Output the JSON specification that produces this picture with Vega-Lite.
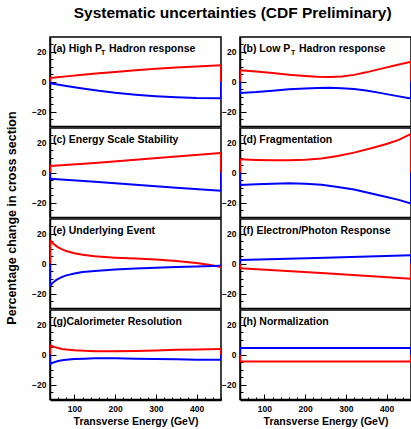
{
  "$schema": "https://vega.github.io/schema/vega-lite/v6.json",
  "padding": 5,
  "background": "white",
  "title": {"text": "Systematic uncertainties (CDF Preliminary)", "font": "Liberation Sans", "fontSize": 15.5, "fontWeight": "bold", "anchor": "middle", "offset": 15, "dx": 24, "color": "black"},
  "datasets": {
    "panels": [
      {"p": "a", "r": 1, "c": 1, "t1": "(a) High P", "t2": "T", "t3": "Hadron response"},
      {"p": "b", "r": 1, "c": 2, "t1": "(b) Low P", "t2": "T", "t3": "Hadron response"},
      {"p": "c", "r": 2, "c": 1, "t1": "(c) Energy Scale Stability", "t2": "", "t3": ""},
      {"p": "d", "r": 2, "c": 2, "t1": "(d) Fragmentation", "t2": "", "t3": ""},
      {"p": "e", "r": 3, "c": 1, "t1": "(e) Underlying Event", "t2": "", "t3": ""},
      {"p": "f", "r": 3, "c": 2, "t1": "(f) Electron/Photon Response", "t2": "", "t3": ""},
      {"p": "g", "r": 4, "c": 1, "t1": "(g)Calorimeter Resolution", "t2": "", "t3": ""},
      {"p": "h", "r": 4, "c": 2, "t1": "(h) Normalization", "t2": "", "t3": ""}
    ],
    "curves": [
      {"p": "a", "s": "red", "x": 40, "y": 2.5}, {"p": "a", "s": "red", "x": 80, "y": 3.6}, {"p": "a", "s": "red", "x": 120, "y": 4.7}, {"p": "a", "s": "red", "x": 160, "y": 5.7}, {"p": "a", "s": "red", "x": 200, "y": 6.6}, {"p": "a", "s": "red", "x": 250, "y": 7.7}, {"p": "a", "s": "red", "x": 300, "y": 8.7}, {"p": "a", "s": "red", "x": 350, "y": 9.6}, {"p": "a", "s": "red", "x": 400, "y": 10.3}, {"p": "a", "s": "red", "x": 460, "y": 11},
      {"p": "a", "s": "blue", "x": 40, "y": -1}, {"p": "a", "s": "blue", "x": 80, "y": -2.8}, {"p": "a", "s": "blue", "x": 120, "y": -4.5}, {"p": "a", "s": "blue", "x": 160, "y": -6.1}, {"p": "a", "s": "blue", "x": 200, "y": -7.4}, {"p": "a", "s": "blue", "x": 250, "y": -8.7}, {"p": "a", "s": "blue", "x": 300, "y": -9.7}, {"p": "a", "s": "blue", "x": 350, "y": -10.4}, {"p": "a", "s": "blue", "x": 400, "y": -10.9}, {"p": "a", "s": "blue", "x": 460, "y": -11.1},
      {"p": "b", "s": "red", "x": 40, "y": 7.7}, {"p": "b", "s": "red", "x": 80, "y": 6.8}, {"p": "b", "s": "red", "x": 120, "y": 5.8}, {"p": "b", "s": "red", "x": 160, "y": 4.7}, {"p": "b", "s": "red", "x": 200, "y": 3.9}, {"p": "b", "s": "red", "x": 230, "y": 3.4}, {"p": "b", "s": "red", "x": 260, "y": 3.15}, {"p": "b", "s": "red", "x": 290, "y": 3.5}, {"p": "b", "s": "red", "x": 320, "y": 4.6}, {"p": "b", "s": "red", "x": 350, "y": 6.3}, {"p": "b", "s": "red", "x": 380, "y": 8.3}, {"p": "b", "s": "red", "x": 420, "y": 10.9}, {"p": "b", "s": "red", "x": 460, "y": 13.5},
      {"p": "b", "s": "blue", "x": 40, "y": -7.5}, {"p": "b", "s": "blue", "x": 80, "y": -6.9}, {"p": "b", "s": "blue", "x": 120, "y": -6.0}, {"p": "b", "s": "blue", "x": 160, "y": -5.1}, {"p": "b", "s": "blue", "x": 200, "y": -4.5}, {"p": "b", "s": "blue", "x": 230, "y": -4.2}, {"p": "b", "s": "blue", "x": 260, "y": -4.1}, {"p": "b", "s": "blue", "x": 290, "y": -4.3}, {"p": "b", "s": "blue", "x": 320, "y": -4.9}, {"p": "b", "s": "blue", "x": 350, "y": -5.9}, {"p": "b", "s": "blue", "x": 380, "y": -7.3}, {"p": "b", "s": "blue", "x": 420, "y": -9.3}, {"p": "b", "s": "blue", "x": 460, "y": -11.3},
      {"p": "c", "s": "red", "x": 40, "y": 4.5}, {"p": "c", "s": "red", "x": 150, "y": 6.6}, {"p": "c", "s": "red", "x": 250, "y": 8.7}, {"p": "c", "s": "red", "x": 350, "y": 10.9}, {"p": "c", "s": "red", "x": 460, "y": 13.3},
      {"p": "c", "s": "blue", "x": 40, "y": -4}, {"p": "c", "s": "blue", "x": 150, "y": -6}, {"p": "c", "s": "blue", "x": 250, "y": -8}, {"p": "c", "s": "blue", "x": 350, "y": -10}, {"p": "c", "s": "blue", "x": 460, "y": -12},
      {"p": "d", "s": "red", "x": 40, "y": 9}, {"p": "d", "s": "red", "x": 80, "y": 8.6}, {"p": "d", "s": "red", "x": 120, "y": 8.3}, {"p": "d", "s": "red", "x": 160, "y": 8.3}, {"p": "d", "s": "red", "x": 200, "y": 8.7}, {"p": "d", "s": "red", "x": 240, "y": 9.6}, {"p": "d", "s": "red", "x": 280, "y": 11.3}, {"p": "d", "s": "red", "x": 320, "y": 13.5}, {"p": "d", "s": "red", "x": 360, "y": 16.2}, {"p": "d", "s": "red", "x": 400, "y": 19.3}, {"p": "d", "s": "red", "x": 430, "y": 22}, {"p": "d", "s": "red", "x": 460, "y": 26},
      {"p": "d", "s": "blue", "x": 40, "y": -8.2}, {"p": "d", "s": "blue", "x": 80, "y": -7.7}, {"p": "d", "s": "blue", "x": 120, "y": -7.3}, {"p": "d", "s": "blue", "x": 160, "y": -7.1}, {"p": "d", "s": "blue", "x": 200, "y": -7.3}, {"p": "d", "s": "blue", "x": 240, "y": -8.1}, {"p": "d", "s": "blue", "x": 280, "y": -9.5}, {"p": "d", "s": "blue", "x": 320, "y": -11.3}, {"p": "d", "s": "blue", "x": 360, "y": -13.8}, {"p": "d", "s": "blue", "x": 400, "y": -16.2}, {"p": "d", "s": "blue", "x": 430, "y": -18.2}, {"p": "d", "s": "blue", "x": 460, "y": -20.6},
      {"p": "e", "s": "red", "x": 40, "y": 16}, {"p": "e", "s": "red", "x": 45, "y": 14.3}, {"p": "e", "s": "red", "x": 50, "y": 13}, {"p": "e", "s": "red", "x": 55, "y": 12}, {"p": "e", "s": "red", "x": 60, "y": 11}, {"p": "e", "s": "red", "x": 70, "y": 9.6}, {"p": "e", "s": "red", "x": 80, "y": 8.5}, {"p": "e", "s": "red", "x": 100, "y": 7}, {"p": "e", "s": "red", "x": 120, "y": 6}, {"p": "e", "s": "red", "x": 150, "y": 5}, {"p": "e", "s": "red", "x": 200, "y": 4.1}, {"p": "e", "s": "red", "x": 250, "y": 3.5}, {"p": "e", "s": "red", "x": 300, "y": 2.8}, {"p": "e", "s": "red", "x": 350, "y": 1.8}, {"p": "e", "s": "red", "x": 400, "y": 0.5}, {"p": "e", "s": "red", "x": 430, "y": -0.6}, {"p": "e", "s": "red", "x": 460, "y": -2.2},
      {"p": "e", "s": "blue", "x": 40, "y": -15}, {"p": "e", "s": "blue", "x": 45, "y": -13.3}, {"p": "e", "s": "blue", "x": 50, "y": -12}, {"p": "e", "s": "blue", "x": 55, "y": -11}, {"p": "e", "s": "blue", "x": 60, "y": -10.2}, {"p": "e", "s": "blue", "x": 70, "y": -8.8}, {"p": "e", "s": "blue", "x": 80, "y": -7.8}, {"p": "e", "s": "blue", "x": 100, "y": -6.5}, {"p": "e", "s": "blue", "x": 120, "y": -5.6}, {"p": "e", "s": "blue", "x": 150, "y": -4.8}, {"p": "e", "s": "blue", "x": 200, "y": -3.9}, {"p": "e", "s": "blue", "x": 250, "y": -3.2}, {"p": "e", "s": "blue", "x": 300, "y": -2.7}, {"p": "e", "s": "blue", "x": 350, "y": -2.2}, {"p": "e", "s": "blue", "x": 400, "y": -1.8}, {"p": "e", "s": "blue", "x": 460, "y": -1.4},
      {"p": "f", "s": "blue", "x": 40, "y": 2.5}, {"p": "f", "s": "blue", "x": 250, "y": 4.1}, {"p": "f", "s": "blue", "x": 460, "y": 5.7},
      {"p": "f", "s": "red", "x": 40, "y": -3}, {"p": "f", "s": "red", "x": 250, "y": -6.4}, {"p": "f", "s": "red", "x": 460, "y": -10},
      {"p": "g", "s": "red", "x": 40, "y": 6.5}, {"p": "g", "s": "red", "x": 50, "y": 5.3}, {"p": "g", "s": "red", "x": 60, "y": 4.5}, {"p": "g", "s": "red", "x": 70, "y": 3.9}, {"p": "g", "s": "red", "x": 80, "y": 3.5}, {"p": "g", "s": "red", "x": 100, "y": 3.0}, {"p": "g", "s": "red", "x": 125, "y": 2.6}, {"p": "g", "s": "red", "x": 150, "y": 2.4}, {"p": "g", "s": "red", "x": 200, "y": 2.3}, {"p": "g", "s": "red", "x": 250, "y": 2.5}, {"p": "g", "s": "red", "x": 300, "y": 2.9}, {"p": "g", "s": "red", "x": 350, "y": 3.3}, {"p": "g", "s": "red", "x": 400, "y": 3.6}, {"p": "g", "s": "red", "x": 460, "y": 3.8},
      {"p": "g", "s": "blue", "x": 40, "y": -6.3}, {"p": "g", "s": "blue", "x": 50, "y": -5.0}, {"p": "g", "s": "blue", "x": 60, "y": -4.2}, {"p": "g", "s": "blue", "x": 70, "y": -3.7}, {"p": "g", "s": "blue", "x": 80, "y": -3.3}, {"p": "g", "s": "blue", "x": 100, "y": -2.9}, {"p": "g", "s": "blue", "x": 125, "y": -2.6}, {"p": "g", "s": "blue", "x": 150, "y": -2.4}, {"p": "g", "s": "blue", "x": 200, "y": -2.4}, {"p": "g", "s": "blue", "x": 250, "y": -2.6}, {"p": "g", "s": "blue", "x": 300, "y": -2.9}, {"p": "g", "s": "blue", "x": 350, "y": -3.1}, {"p": "g", "s": "blue", "x": 400, "y": -3.3}, {"p": "g", "s": "blue", "x": 460, "y": -3.4},
      {"p": "h", "s": "blue", "x": 40, "y": 4.5}, {"p": "h", "s": "blue", "x": 460, "y": 4.5},
      {"p": "h", "s": "red", "x": 40, "y": -4.5}, {"p": "h", "s": "red", "x": 460, "y": -4.5}
    ]
  },
  "data": {"name": "curves"},
  "transform": [
    {"lookup": "p", "from": {"data": {"name": "panels"}, "key": "p", "fields": ["r", "c", "t1", "t2", "t3"]}}
  ],
  "facet": {
    "row": {"field": "r", "type": "ordinal", "header": {"title": "Percentage change in cross section", "labels": false, "titleFont": "Liberation Sans", "titleFontSize": 12.5, "titleFontWeight": "bold", "titleColor": "black", "titlePadding": 22}},
    "column": {"field": "c", "type": "ordinal", "header": {"title": null, "labels": false}}
  },
  "spacing": {"row": 1, "column": 19},
  "bounds": "flush",
  "resolve": {"axis": {"y": "independent"}},
  "spec": {
    "width": 171,
    "height": 89.5,
    "encoding": {
      "x": {"field": "x", "type": "quantitative", "scale": {"domain": [40, 460], "nice": false, "zero": false},
        "axis": {"title": "Transverse Energy (GeV)", "values": [60, 80, 100, 120, 140, 160, 180, 200, 220, 240, 260, 280, 300, 320, 340, 360, 380, 400, 420, 440, 460],
          "labelExpr": "datum.value % 100 === 0 ? datum.label : ''", "grid": false,
          "tickSize": {"condition": {"test": "datum.value % 100 === 0", "value": -6}, "value": -3},
          "tickColor": "black", "tickWidth": 1, "domainColor": "black", "domainWidth": 1.5,
          "labelFont": "Liberation Sans", "labelFontSize": 8.5, "labelFontWeight": "bold", "labelColor": "black", "labelPadding": 10,
          "titleFont": "Liberation Sans", "titleFontSize": 10.5, "titleFontWeight": "bold", "titleColor": "black", "titlePadding": 4}},
      "y": {"field": "y", "type": "quantitative", "scale": {"domain": [-30, 30], "nice": false},
        "axis": {"title": null, "values": [-25, -20, -15, -10, -5, 0, 5, 10, 15, 20, 25],
          "labelExpr": "datum.value % 20 === 0 ? datum.label : ''", "grid": false,
          "tickSize": {"condition": {"test": "datum.value % 20 === 0", "value": -6}, "value": -3},
          "tickColor": "black", "tickWidth": 1, "domainColor": "black", "domainWidth": 1.5,
          "labelFont": "Liberation Sans", "labelFontSize": 8.5, "labelFontWeight": "bold", "labelColor": "black", "labelPadding": 10}}
    },
    "layer": [
      {"mark": {"type": "line", "strokeWidth": 2, "clip": true},
        "encoding": {"color": {"field": "s", "type": "nominal", "scale": {"domain": ["red", "blue"], "range": ["#ff0000", "#0000ff"]}, "legend": null}, "detail": {"field": "s"}}},
      {"transform": [{"filter": "datum.x == 40 || datum.x == 460"}],
        "mark": {"type": "rule", "strokeWidth": 2, "clip": true},
        "encoding": {"y2": {"datum": 0}, "color": {"field": "s", "type": "nominal", "scale": {"domain": ["red", "blue"], "range": ["#ff0000", "#0000ff"]}, "legend": null}}},
      {"transform": [{"filter": "datum.x == 40 && datum.s == 'red'"}],
        "mark": {"type": "text", "align": "left", "baseline": "alphabetic", "font": "Liberation Sans", "fontSize": 10.5, "fontWeight": "bold", "color": "black", "dx": 3},
        "encoding": {"x": {"datum": 40}, "y": {"datum": 20}, "text": {"field": "t1"}}},
      {"transform": [{"filter": "datum.x == 40 && datum.s == 'red'"}],
        "mark": {"type": "text", "align": "left", "baseline": "alphabetic", "font": "Liberation Sans", "fontSize": 7, "fontWeight": "bold", "color": "black", "dx": 51, "dy": 3},
        "encoding": {"x": {"datum": 40}, "y": {"datum": 20}, "text": {"field": "t2"}}},
      {"transform": [{"filter": "datum.x == 40 && datum.s == 'red'"}],
        "mark": {"type": "text", "align": "left", "baseline": "alphabetic", "font": "Liberation Sans", "fontSize": 10.5, "fontWeight": "bold", "color": "black", "dx": 59},
        "encoding": {"x": {"datum": 40}, "y": {"datum": 20}, "text": {"field": "t3"}}}
    ]
  },
  "config": {"view": {"stroke": "black", "strokeWidth": 1.5}}
}
